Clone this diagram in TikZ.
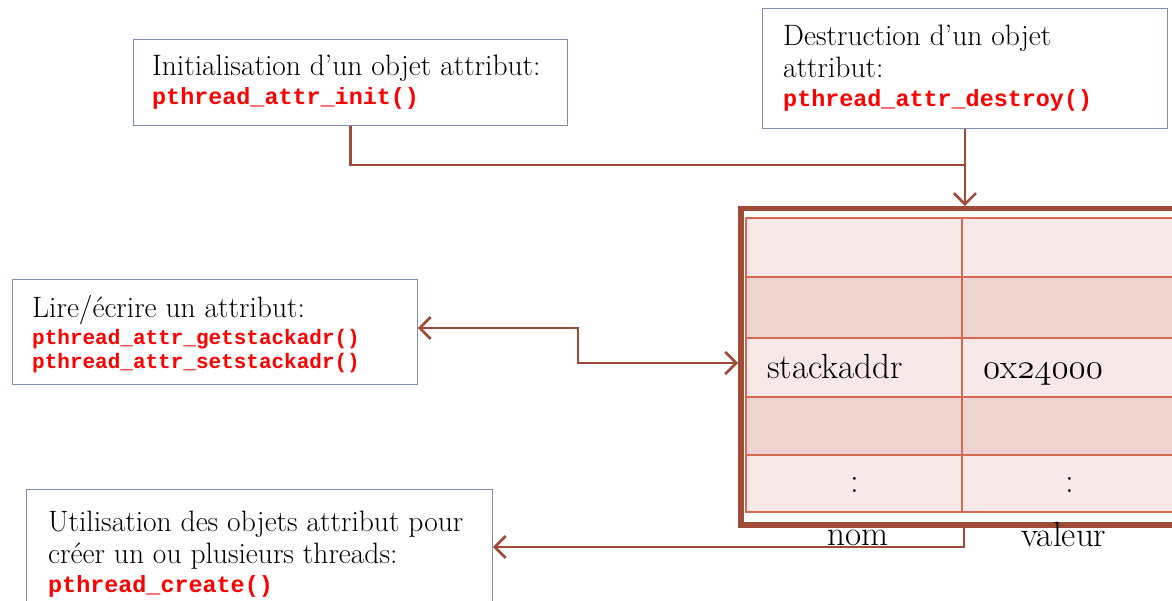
\documentclass[tikz,border=0pt]{standalone}
\usepackage{fontspec}
\usetikzlibrary{arrows.meta}
\newfontfamily\codefont{Liberation Mono}
\definecolor{linkbrown}{RGB}{160,74,56}
\definecolor{gridred}{RGB}{212,106,82}
\definecolor{rowlight}{RGB}{248,233,232}
\definecolor{rowdark}{RGB}{239,211,207}
\definecolor{boxblue}{RGB}{128,140,176}
% old-style figures taken from the Computer Modern math italic font
\font\oldfigfont=cmmi12 at 35pt
\newcommand{\osnum}[1]{{\oldfigfont #1}}
\newcommand{\code}[2]{{\codefont\bfseries\fontsize{#1}{#1}\selectfont\color{red}#2}}
\tikzset{
  infobox/.style={draw=boxblue, line width=0.9pt, fill=white, anchor=north west, inner sep=0pt},
  boxtext/.style={anchor=west, align=left, inner sep=0pt, font=\fontsize{29.5}{32}\selectfont},
  link/.style={draw=linkbrown, line width=2.6pt},
  tip/.style={-{Straight Barb[length=11pt,width=22pt]}},
  celltext/.style={inner sep=0pt, font=\fontsize{35}{35}\selectfont},
}
\begin{document}
\begin{tikzpicture}[x=1pt,y=-1pt]
\useasboundingbox (0,0) rectangle (1172,601);
\clip (0,0) rectangle (1172,601);

% attribute table: striped rows, grid, thick frame
\fill[rowlight] (746,218) rectangle (1190,277);
\fill[rowdark]  (746,277) rectangle (1190,338);
\fill[rowlight] (746,338) rectangle (1190,397);
\fill[rowdark]  (746,397) rectangle (1190,455);
\fill[rowlight] (746,455) rectangle (1190,512);
\draw[gridred, line width=2.2pt] (746,218) rectangle (1190,512);
\foreach \yy in {277,338,397,455} \draw[gridred, line width=2.2pt] (746,\yy) -- (1190,\yy);
\draw[gridred, line width=2.2pt] (962,218) -- (962,512);
\node[draw=linkbrown, line width=5.5pt, anchor=north west, inner sep=0pt,
      minimum width=470pt, minimum height=316pt] (tbl) at (738,206) {};

\node[celltext, anchor=base west] (keyname) at (767,378) {stackaddr};
\node[celltext, anchor=base west] (keyval) at (983,378) {\osnum{0}x\osnum{24000}};
\node[celltext, anchor=base] (dotsname) at (855,492) {:};
\node[celltext, anchor=base] (dotsval) at (1070,492) {:};
\node[celltext, anchor=base] (colname) at (858,545) {nom};
\node[celltext, anchor=base] (colval) at (1064,546) {valeur};

% description boxes and their texts
\node[infobox, minimum width=434pt, minimum height=86pt] (init) at (133,39) {};
\node[boxtext] (initlabel) at ([xshift=19pt]init.west)
  {Initialisation d’un objet attribut:\\[-3pt] \code{23.4}{pthread\_attr\_init()}};

\node[infobox, minimum width=405pt, minimum height=120pt] (destroy) at (762,8) {};
\node[boxtext] (destroylabel) at ([xshift=21pt]destroy.west)
  {Destruction d’un objet\\ attribut:\\[-3pt] \code{23.4}{pthread\_attr\_destroy()}};

\node[infobox, minimum width=405pt, minimum height=105pt] (rw) at (12,279) {};
\node[boxtext] (rwlabel) at ([xshift=20pt,yshift=-2pt]rw.west)
  {Lire/écrire un attribut:\\[-5pt] \code{21}{pthread\_attr\_getstackadr()}\\[-8pt] \code{21}{pthread\_attr\_setstackadr()}};

\node[infobox, minimum width=466pt, minimum height=130pt] (use) at (26,489) {};
\node[boxtext] (uselabel) at ([xshift=22pt]use.west)
  {Utilisation des objets attribut pour\\ créer un ou plusieurs threads:\\[-3pt] \code{23.4}{pthread\_create()}};

% connectors
\coordinate (join) at (destroy.south |- 0,165);
\coordinate (rwbend) at (578,328);
\coordinate (tblin) at (tbl.west |- 0,363);
\coordinate (usebend) at (964,547);
\draw[link] (init.south) |- (join);
\draw[link, tip] (destroy.south) -- (tbl.north -| destroy.south);
\draw[link, {Straight Barb[length=11pt,width=22pt]}-{Straight Barb[length=11pt,width=22pt]}]
  (rw.east |- rwbend) -- (rwbend) |- (tblin);
\draw[link, tip] (tbl.south -| usebend) -- (usebend) -- (use.east |- usebend);
\end{tikzpicture}
\end{document}
